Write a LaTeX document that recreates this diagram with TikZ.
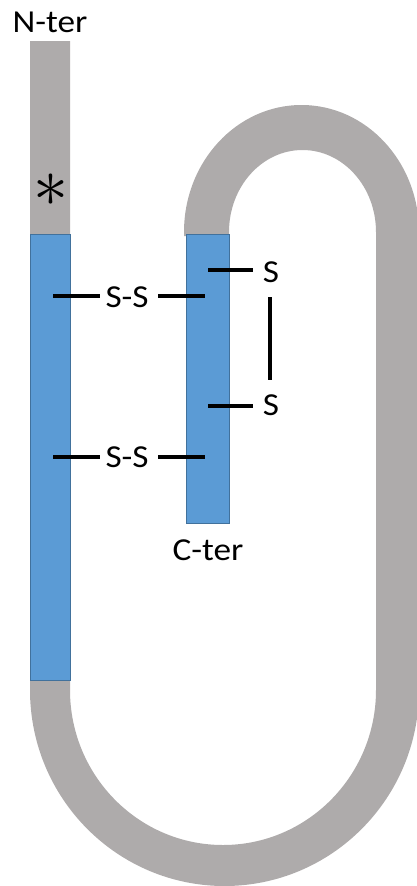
\documentclass[tikz,border=0pt]{standalone}
\usepackage{fontspec}
\setmainfont{Carlito}[FakeStretch=1.1]
\usepackage{graphicx}
\definecolor{strand}{RGB}{174,171,171}
\definecolor{helix}{RGB}{91,155,213}
\definecolor{helixedge}{RGB}{65,113,156}
\begin{document}
\begin{tikzpicture}[x=1pt,y=-1pt,
  lbl/.style={font=\fontsize{32}{36}\selectfont, inner sep=0pt, anchor=base},
  bond/.style={line width=3.6pt, black},
  helixbox/.style={fill=helix, draw=helixedge, line width=0.8pt}]
\useasboundingbox (0,0) rectangle (416,886);
% grey chain
\fill[strand] (30,41) -- (30,690)
  arc[start angle=180, end angle=0, x radius=194.5, y radius=196]
  -- (419,232)
  arc[start angle=0, end angle=-180, x radius=117.5, y radius=127]
  -- (184,236) -- (229,236) -- (229,232)
  arc[start angle=180, end angle=360, x radius=73.5, y radius=82]
  -- (376,690)
  arc[start angle=0, end angle=180, x radius=153, y radius=155]
  -- (70,41) -- cycle;
% helices
\node[helixbox, minimum width=40pt, minimum height=446pt, inner sep=0pt] (h1) at (50,457) {};
\node[helixbox, minimum width=43pt, minimum height=289pt, inner sep=0pt] (h2) at (207.5,378.5) {};
% labels
\node[lbl] (nter) at (50,32) {N-ter};
\node[lbl] (cter) at (208,560) {C-ter};
\node[inner sep=0pt] (star) at (51,190) {\scalebox{7}{$\ast$}};
\node[lbl] (ss1) at (127,307) {S-S};
\node[lbl] (ss2) at (127,467) {S-S};
\node[lbl] (s1) at (271,282) {S};
\node[lbl] (s2) at (271,415) {S};
% bonds
\coordinate (a1) at (53,296); \coordinate (a2) at (100,296);
\coordinate (b1) at (158,296); \coordinate (b2) at (205,296);
\coordinate (c1) at (53,457); \coordinate (c2) at (100,457);
\coordinate (d1) at (158,457); \coordinate (d2) at (205,457);
\coordinate (e1) at (208,270); \coordinate (e2) at (253,270);
\coordinate (f1) at (208,406); \coordinate (f2) at (253,406);
\coordinate (v1) at (270,297); \coordinate (v2) at (270,380);
\draw[bond] (a1) -- (a2);
\draw[bond] (b1) -- (b2);
\draw[bond] (c1) -- (c2);
\draw[bond] (d1) -- (d2);
\draw[bond] (e1) -- (e2);
\draw[bond] (f1) -- (f2);
\draw[bond] (v1) -- (v2);
\end{tikzpicture}
\end{document}
